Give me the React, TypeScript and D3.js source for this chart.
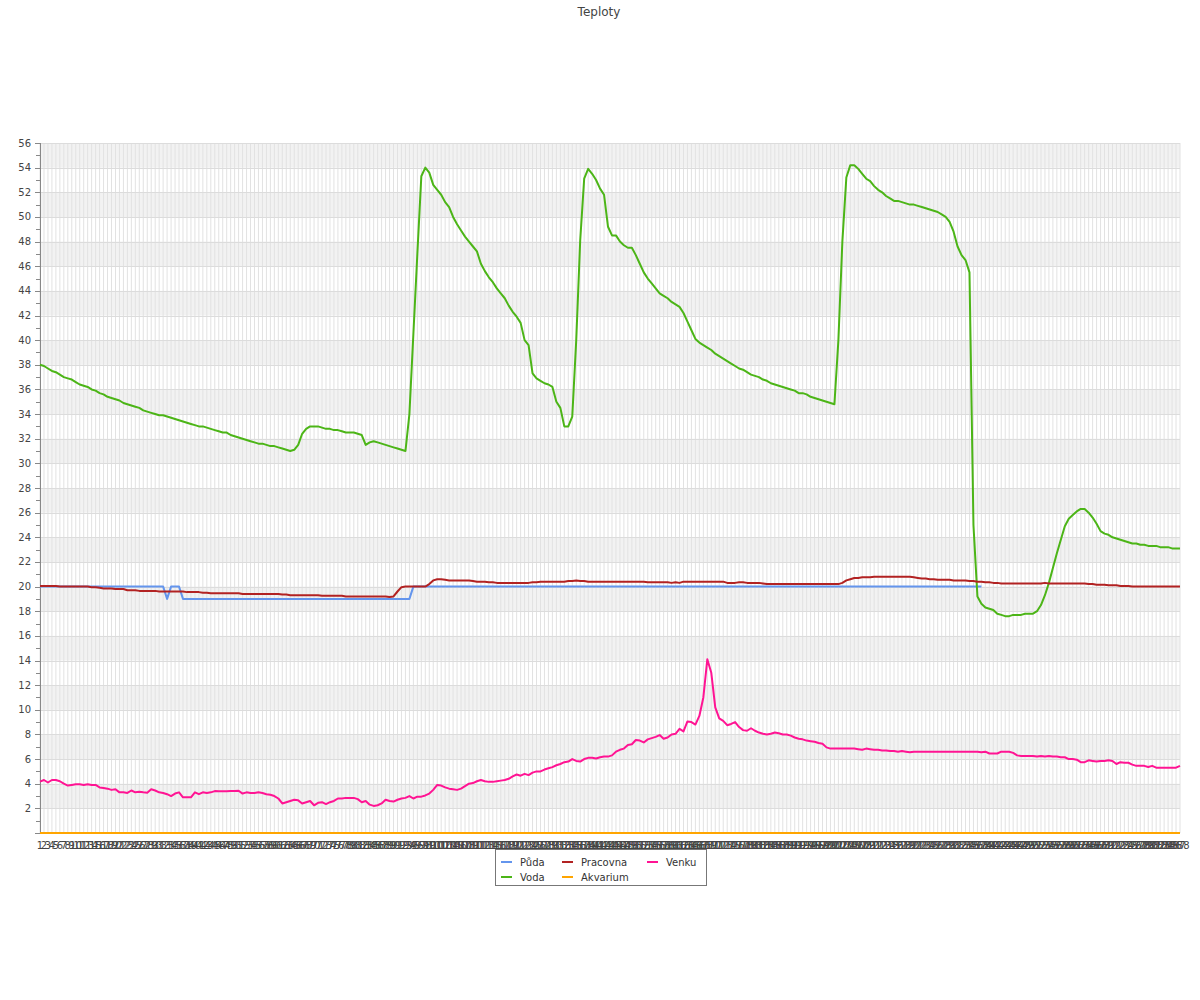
import React from "react";
import * as d3 from "d3";

const title = "Teploty";
const categories: string[] = Array.from({ length: 288 }, (_, i) => String(i + 1));
const yTicks: number[] = d3.range(0, 57, 2);
const seriesNames = ["Půda", "Voda", "Pracovna", "Akvarium", "Venku"];
const seriesColors = ["#6495ed", "#4cb517", "#b22222", "#ffa500", "#ff1493"];

const puda: number[] = [
  20,20,20,20,20,20,20,20,20,20,20,20,20,20,20,20,20,20,20,20,20,20,20,20,20,20,20,20,20,20,20,20,
  19,20,20,20,
  19,19,19,19,19,19,19,19,19,19,19,19,19,19,19,19,19,19,19,19,19,19,19,19,19,19,19,19,19,
  19,19,19,19,19,19,19,19,19,19,19,19,19,19,19,19,19,19,19,19,19,19,19,19,19,19,19,19,19,
  20,20,20,20,20,20,20,20,20,20,20,20,20,20,20,20,20,20,20,20,20,20,20,20,20,20,20,20,20,20,20,20,20,20,20,20,20,20,20,20,20,20,20,20,20,20,20,20,20,20,20,20,20,20,20,20,20,20,20,20,20,20,20,20,20,20,20,20,20,20,20,20,20,20,20,20,20,20,20,20,20,20,20,20,20,20,20,20,20,20,20,20,20,20,20,20,20,20,20,20,20,20,20,20,20,20,20,20,20,20,20,20,20,20,20,20,20,20,20,20,20,20,20,20,20,20,20,20,20,20,20,20,20,20,20,20,20,20,20,20,20,20,20,20,
];

const voda: number[] = [
  38.0,37.9,37.7,37.5,37.4,37.2,37.0,36.9,36.8,36.6,
  36.4,36.3,36.2,36.0,35.9,35.7,35.6,35.4,35.3,35.2,
  35.1,34.9,34.8,34.7,34.6,34.5,34.3,34.2,34.1,34.0,
  33.9,33.9,33.8,33.7,33.6,33.5,33.4,33.3,33.2,33.1,
  33.0,33.0,32.9,32.8,32.7,32.6,32.5,32.5,32.3,32.2,
  32.1,32.0,31.9,31.8,31.7,31.6,31.6,31.5,31.4,31.4,
  31.3,31.2,31.1,31.0,31.1,31.5,32.4,32.8,33.0,33.0,
  33.0,32.9,32.8,32.8,32.7,32.7,32.6,32.5,32.5,32.5,
  32.4,32.3,31.5,31.7,31.8,31.7,31.6,31.5,31.4,31.3,
  31.2,31.1,31.0,34.0,40.5,47.0,53.3,54.0,53.6,52.6,
  52.2,51.8,51.2,50.8,50.0,49.4,48.9,48.4,48.0,47.6,
  47.2,46.2,45.6,45.1,44.7,44.2,43.8,43.4,42.8,42.3,
  41.9,41.4,40.0,39.6,37.3,36.9,36.7,36.5,36.4,36.2,
  35.0,34.5,33.0,33.0,33.8,40.0,48.1,53.1,53.9,53.5,
  53.0,52.3,51.8,49.2,48.5,48.5,48.0,47.7,47.5,47.5,
  46.9,46.2,45.5,45.0,44.6,44.2,43.8,43.6,43.4,43.1,
  42.9,42.7,42.2,41.5,40.8,40.1,39.8,39.6,39.4,39.2,
  38.9,38.7,38.5,38.3,38.1,37.9,37.7,37.6,37.4,37.2,
  37.1,37.0,36.8,36.7,36.5,36.4,36.3,36.2,36.1,36.0,
  35.9,35.7,35.7,35.6,35.4,35.3,35.2,35.1,35.0,34.9,
  34.8,40.0,48.0,53.2,54.2,54.2,53.9,53.5,53.1,52.9,
  52.5,52.2,52.0,51.7,51.5,51.3,51.3,51.2,51.1,51.0,
  51.0,50.9,50.8,50.7,50.6,50.5,50.4,50.2,50.0,49.6,
  48.8,47.6,46.9,46.5,45.5,25.0,19.2,18.6,18.3,18.2,
  18.1,17.8,17.7,17.6,17.6,17.7,17.7,17.7,17.8,17.8,
  17.8,18.0,18.5,19.3,20.3,21.5,22.7,23.8,24.9,25.5,
  25.8,26.1,26.3,26.3,26.0,25.6,25.1,24.5,24.3,24.2,
  24.0,23.9,23.8,23.7,23.6,23.5,23.5,23.4,23.4,23.3,
  23.3,23.3,23.2,23.2,23.2,23.1,23.1,23.1,
];

const pracovna: number[] = [
  20.05,20.05,20.05,20.05,20.05,20.0,20.0,20.0,20.0,20.0,
  20.0,20.0,20.0,19.95,19.95,19.9,19.85,19.85,19.85,19.8,
  19.8,19.8,19.7,19.7,19.7,19.65,19.65,19.65,19.65,19.65,
  19.6,19.6,19.6,19.6,19.6,19.6,19.6,19.55,19.55,19.55,
  19.55,19.5,19.5,19.45,19.45,19.45,19.45,19.45,19.45,19.45,
  19.45,19.4,19.4,19.4,19.4,19.4,19.4,19.4,19.4,19.4,
  19.4,19.35,19.35,19.3,19.3,19.3,19.3,19.3,19.3,19.3,
  19.3,19.25,19.25,19.25,19.25,19.25,19.25,19.2,19.2,19.2,
  19.2,19.2,19.2,19.2,19.2,19.2,19.2,19.2,19.15,19.2,
  19.6,19.95,20.0,20.0,20.0,20.0,20.0,20.0,20.2,20.5,
  20.6,20.6,20.55,20.5,20.5,20.5,20.5,20.5,20.5,20.45,
  20.4,20.4,20.4,20.35,20.35,20.3,20.3,20.3,20.3,20.3,
  20.3,20.3,20.3,20.3,20.35,20.35,20.4,20.4,20.4,20.4,
  20.4,20.4,20.4,20.45,20.45,20.5,20.45,20.45,20.4,20.4,
  20.4,20.4,20.4,20.4,20.4,20.4,20.4,20.4,20.4,20.4,
  20.4,20.4,20.4,20.35,20.35,20.35,20.35,20.35,20.35,20.3,
  20.35,20.3,20.4,20.4,20.4,20.4,20.4,20.4,20.4,20.4,
  20.4,20.4,20.4,20.3,20.3,20.3,20.35,20.35,20.3,20.3,
  20.3,20.3,20.25,20.2,20.2,20.2,20.2,20.2,20.2,20.2,
  20.2,20.2,20.2,20.2,20.2,20.2,20.2,20.2,20.2,20.2,
  20.2,20.2,20.3,20.5,20.6,20.7,20.7,20.75,20.75,20.75,
  20.8,20.8,20.8,20.8,20.8,20.8,20.8,20.8,20.8,20.8,
  20.75,20.7,20.65,20.65,20.6,20.6,20.55,20.55,20.55,20.55,
  20.5,20.5,20.5,20.5,20.45,20.45,20.4,20.4,20.35,20.35,
  20.3,20.3,20.25,20.25,20.25,20.25,20.25,20.25,20.25,20.25,
  20.25,20.25,20.25,20.3,20.25,20.25,20.25,20.25,20.25,20.25,
  20.25,20.25,20.25,20.25,20.2,20.2,20.15,20.15,20.15,20.1,
  20.1,20.1,20.05,20.05,20.05,20.0,20.0,20.0,20.0,20.0,
  20.0,20.0,20.0,20.0,20.0,20.0,20.0,20.0,
];

const akvarium: number[] = [
  0,0,0,0,0,0,0,0,0,0,0,0,0,0,0,0,0,0,0,0,0,0,0,0,
  0,0,0,0,0,0,0,0,0,0,0,0,0,0,0,0,0,0,0,0,0,0,0,0,
  0,0,0,0,0,0,0,0,0,0,0,0,0,0,0,0,0,0,0,0,0,0,0,0,
  0,0,0,0,0,0,0,0,0,0,0,0,0,0,0,0,0,0,0,0,0,0,0,0,
  0,0,0,0,0,0,0,0,0,0,0,0,0,0,0,0,0,0,0,0,0,0,0,0,
  0,0,0,0,0,0,0,0,0,0,0,0,0,0,0,0,0,0,0,0,0,0,0,0,
  0,0,0,0,0,0,0,0,0,0,0,0,0,0,0,0,0,0,0,0,0,0,0,0,
  0,0,0,0,0,0,0,0,0,0,0,0,0,0,0,0,0,0,0,0,0,0,0,0,
  0,0,0,0,0,0,0,0,0,0,0,0,0,0,0,0,0,0,0,0,0,0,0,0,
  0,0,0,0,0,0,0,0,0,0,0,0,0,0,0,0,0,0,0,0,0,0,0,0,
  0,0,0,0,0,0,0,0,0,0,0,0,0,0,0,0,0,0,0,0,0,0,0,0,
  0,0,0,0,0,0,0,0,0,0,0,0,0,0,0,0,0,0,0,0,0,0,0,0,
];

const venku: number[] = [
  4.17,4.3,4.1,4.3,4.3,4.2,4.0,3.85,3.9,3.95,
  3.95,3.9,3.95,3.9,3.9,3.7,3.65,3.6,3.5,3.55,
  3.3,3.3,3.25,3.45,3.3,3.35,3.3,3.27,3.55,3.45,
  3.3,3.25,3.15,3.0,3.2,3.3,2.9,2.9,2.9,3.3,
  3.15,3.3,3.25,3.3,3.4,3.38,3.38,3.38,3.4,3.4,
  3.43,3.2,3.3,3.25,3.25,3.3,3.25,3.15,3.1,3.0,
  2.8,2.4,2.5,2.6,2.7,2.65,2.4,2.5,2.6,2.25,
  2.45,2.5,2.35,2.5,2.6,2.8,2.8,2.85,2.85,2.85,
  2.75,2.5,2.6,2.3,2.2,2.25,2.4,2.7,2.6,2.55,
  2.7,2.8,2.85,3.0,2.8,2.95,2.95,3.05,3.2,3.5,
  3.9,3.85,3.7,3.6,3.55,3.5,3.6,3.8,4.0,4.05,
  4.2,4.3,4.2,4.15,4.15,4.2,4.25,4.3,4.4,4.6,
  4.75,4.65,4.8,4.7,4.9,5.0,5.0,5.15,5.25,5.35,
  5.5,5.6,5.75,5.8,6.0,5.85,5.8,6.0,6.1,6.1,
  6.05,6.15,6.2,6.2,6.3,6.6,6.75,6.85,7.15,7.2,
  7.55,7.5,7.35,7.6,7.7,7.8,7.95,7.65,7.75,8.0,
  8.05,8.45,8.25,9.05,9.0,8.8,9.5,11.0,14.1,13.0,
  10.2,9.3,9.1,8.75,8.85,9.0,8.6,8.35,8.3,8.5,
  8.3,8.15,8.05,8.0,8.05,8.15,8.1,8.0,8.0,7.9,
  7.75,7.65,7.6,7.5,7.45,7.4,7.3,7.25,6.95,6.85,
  6.85,6.85,6.85,6.85,6.85,6.85,6.8,6.75,6.85,6.8,
  6.75,6.75,6.7,6.7,6.65,6.65,6.6,6.65,6.6,6.55,
  6.6,6.6,6.6,6.6,6.6,6.6,6.6,6.6,6.6,6.6,
  6.6,6.6,6.6,6.6,6.6,6.6,6.6,6.55,6.6,6.45,
  6.45,6.45,6.6,6.6,6.6,6.5,6.3,6.25,6.25,6.25,
  6.25,6.2,6.25,6.2,6.25,6.2,6.2,6.15,6.15,6.0,
  6.0,5.95,5.75,5.75,5.9,5.85,5.8,5.85,5.85,5.9,
  5.85,5.6,5.75,5.7,5.7,5.55,5.45,5.45,5.45,5.35,
  5.45,5.3,5.3,5.3,5.3,5.3,5.3,5.45,
];

const seriesData = [puda, voda, pracovna, akvarium, venku];

const FONT = "'DejaVu Sans', sans-serif";

export default function App() {
  const left = 40, right = 1180, top = 143, bottom = 833;
  const x = d3.scalePoint<string>().domain(categories).range([left, right]);
  const y = d3.scaleLinear().domain([0, 56]).range([bottom, top]);
  const line = d3
    .line<number>()
    .x((_, i) => x(categories[i]) as number)
    .y((d) => y(d));

  const bands = yTicks.filter((t) => t % 4 === 2 && t < 56);
  const minorTicks = d3.range(1, 56, 2);

  const legendItems = [
    { name: seriesNames[0], color: seriesColors[0], lx: 501, ly: 862 },
    { name: seriesNames[1], color: seriesColors[1], lx: 501, ly: 877 },
    { name: seriesNames[2], color: seriesColors[2], lx: 562, ly: 862 },
    { name: seriesNames[3], color: seriesColors[3], lx: 562, ly: 877 },
    { name: seriesNames[4], color: seriesColors[4], lx: 647, ly: 862 },
  ];

  return (
    <svg
      width={1200}
      height={1000}
      style={{ position: "absolute", left: 0, top: 0, background: "#fff" }}
      fontFamily={FONT}
    >
      <rect x={0} y={0} width={1200} height={1000} fill="#fff" />
      <text x={599} y={16} textAnchor="middle" fontSize={12} fill="#444">
        {title}
      </text>

      {/* bands */}
      {bands.map((t) => (
        <rect
          key={"b" + t}
          x={left}
          y={y(t + 2)}
          width={right - left}
          height={y(t) - y(t + 2)}
          fill="#f2f2f2"
        />
      ))}
      {/* vertical grid */}
      {categories.map((c) => (
        <line
          key={"v" + c}
          x1={x(c)}
          x2={x(c)}
          y1={top}
          y2={bottom}
          stroke="#e2e2e2"
          strokeWidth={1}
        />
      ))}
      {/* horizontal grid */}
      {yTicks.map((t) => (
        <line
          key={"h" + t}
          x1={left}
          x2={right}
          y1={Math.round(y(t)) + 0.5}
          y2={Math.round(y(t)) + 0.5}
          stroke="#dcdcdc"
          strokeWidth={1}
        />
      ))}

      {/* y axis */}
      <line x1={40.5} x2={40.5} y1={top} y2={bottom} stroke="#888" strokeWidth={1} />
      {yTicks.map((t) => (
        <g key={"yt" + t}>
          <line
            x1={35}
            x2={40}
            y1={Math.round(y(t)) + 0.5}
            y2={Math.round(y(t)) + 0.5}
            stroke="#888"
          />
          {t > 0 && (
            <text x={31} y={y(t)} dy="0.35em" textAnchor="end" fontSize={10} fill="#444">
              {t}
            </text>
          )}
        </g>
      ))}
      {minorTicks.map((t) => (
        <line
          key={"mt" + t}
          x1={36}
          x2={40}
          y1={Math.round(y(t)) + 0.5}
          y2={Math.round(y(t)) + 0.5}
          stroke="#888"
        />
      ))}

      {/* x axis */}
      <line x1={left} x2={right} y1={bottom + 0.5} y2={bottom + 0.5} stroke="#888" />
      {categories.map((c) => (
        <text
          key={"xl" + c}
          x={x(c)}
          y={849}
          textAnchor="middle"
          fontSize={10}
          fill="#444"
        >
          {c}
        </text>
      ))}

      {/* series */}
      {seriesData.map((s, k) => (
        <path
          key={"s" + k}
          d={line(s) || ""}
          fill="none"
          stroke={seriesColors[k]}
          strokeWidth={2}
          strokeLinejoin="round"
        />
      ))}

      {/* legend */}
      <rect x={495.5} y={849.5} width={211} height={36} fill="#fff" stroke="#777" strokeWidth={1} />
      {legendItems.map((it) => (
        <g key={"lg" + it.name}>
          <line x1={it.lx} x2={it.lx + 11} y1={it.ly} y2={it.ly} stroke={it.color} strokeWidth={2} />
          <text x={it.lx + 19} y={it.ly} dy="0.35em" fontSize={10} fill="#333">
            {it.name}
          </text>
        </g>
      ))}
    </svg>
  );
}
